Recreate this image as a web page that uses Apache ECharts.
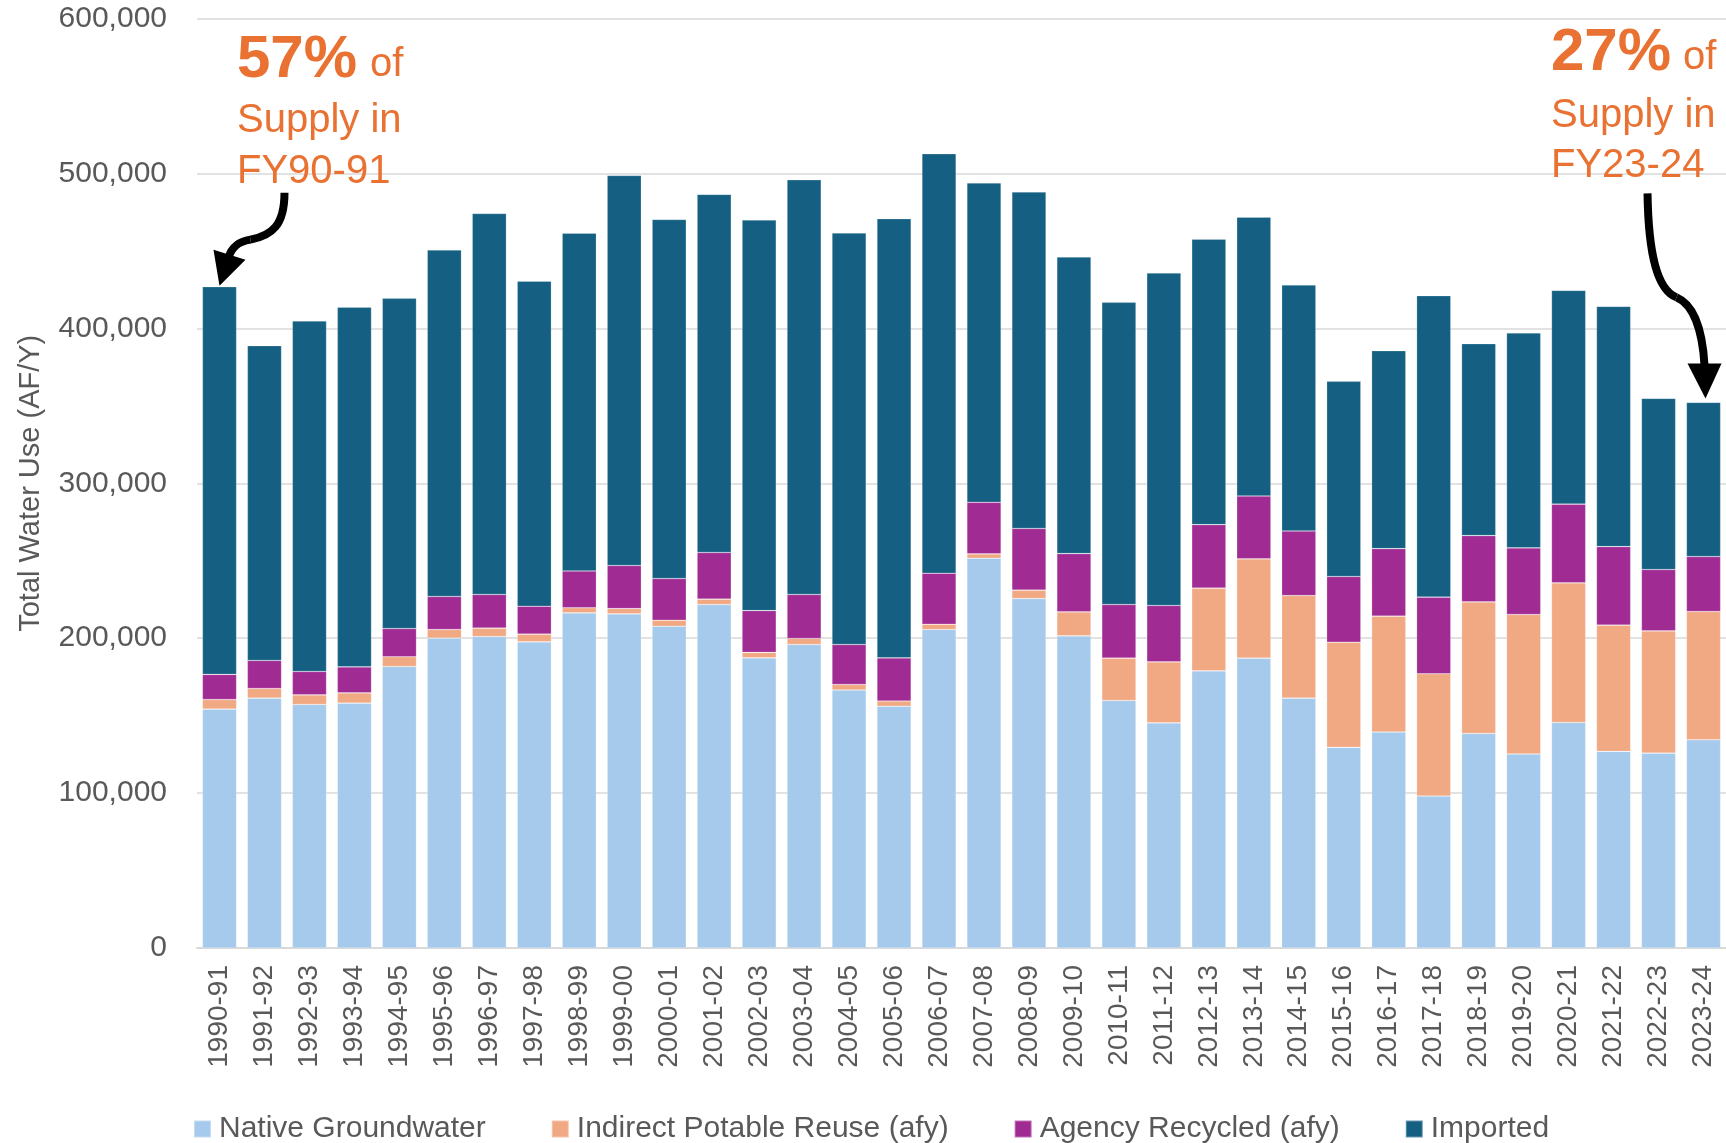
<!DOCTYPE html>
<html>
<head>
<meta charset="utf-8">
<script src="https://cdn.jsdelivr.net/npm/echarts@6/dist/echarts.min.js"></script>
<style>
html,body{margin:0;padding:0;background:#fff;}
#chart{width:1726px;height:1143px;}
</style>
</head>
<body>
<div id="chart"></div>
<script>
const categories = ['1990-91','1991-92','1992-93','1993-94','1994-95','1995-96','1996-97','1997-98','1998-99','1999-00','2000-01','2001-02','2002-03','2003-04','2004-05','2005-06','2006-07','2007-08','2008-09','2009-10','2010-11','2011-12','2012-13','2013-14','2014-15','2015-16','2016-17','2017-18','2018-19','2019-20','2020-21','2021-22','2022-23','2023-24'];
const nativeGroundwater = [154200,161300,157200,158100,181700,200000,201100,197600,216300,215700,207700,221700,187300,195900,166500,156100,205600,251600,225600,201500,159800,145300,178900,187100,161300,129500,139400,98100,138500,125200,145600,126900,125800,134400];
const indirectPotableReuse = [6200,6200,6200,6600,6300,5600,5400,5000,3300,3400,3900,3500,3500,3900,3600,3300,3400,2800,5400,15500,27300,39400,53400,64100,66200,67900,74800,78900,84900,90100,90100,81500,78900,82800];
const agencyRecycled = [16200,18100,15100,16800,18200,21300,21700,18000,23800,27800,26900,30100,27000,28400,25800,27900,32900,33300,39800,37600,34600,36400,41000,40600,41700,42400,43600,49500,42800,43000,50800,50700,39600,35500];
const imported = [250300,203200,226200,232100,213200,223700,245900,209800,218000,251800,231800,231200,252100,267700,265600,283500,270800,206100,217200,191400,195100,214600,184200,179900,158800,126000,127800,194600,123900,138700,138000,155100,110500,99500];
const yTicks = [0,100000,200000,300000,400000,500000,600000];
const seriesNames = ['Native Groundwater','Indirect Potable Reuse (afy)','Agency Recycled (afy)','Imported'];

const FONT = '"Liberation Sans", Arial, sans-serif';
const GRAY = '#595959';
const ORANGE = '#E97132';
const colors = ['#A6CAEC','#F1A983','#A02B93','#156082'];
const dataSets = [nativeGroundwater, indirectPotableReuse, agencyRecycled, imported];

const chart = echarts.init(document.getElementById('chart'), null, {renderer:'canvas'});
const option = {
  animation:false,
  textStyle:{fontFamily:FONT},
  grid:{left:197,right:0,top:18.5,bottom:195,containLabel:false},
  legend:{
    left:188, top:1109, itemWidth:17, itemHeight:17, itemGap:65,
    icon:'rect',
    textStyle:{fontFamily:FONT,fontSize:30,color:GRAY,padding:[0,0,0,3]},
    data:seriesNames
  },
  xAxis:{
    type:'category', data:categories,
    axisLine:{lineStyle:{color:'#D9D9D9',width:2}},
    axisTick:{show:false},
    axisLabel:{rotate:90,fontFamily:FONT,fontSize:28,color:GRAY,margin:17,interval:0}
  },
  yAxis:{
    type:'value', min:yTicks[0], max:yTicks[yTicks.length-1], interval:100000,
    name:'Total Water Use (AF/Y)', nameLocation:'middle', nameGap:152,
    nameTextStyle:{fontFamily:FONT,fontSize:29,color:GRAY},
    axisLine:{show:false}, axisTick:{show:false},
    splitLine:{lineStyle:{color:'#D9D9D9',width:1.5}},
    axisLabel:{fontFamily:FONT,fontSize:30,color:GRAY,margin:30,
      formatter:v=>v.toLocaleString('en-US')}
  },
  series: seriesNames.map((n,i)=>({
    name:n, type:'bar', stack:'total', data:dataSets[i],
    barCategoryGap:'24%',
    itemStyle:{color:colors[i],borderColor:'rgba(255,255,255,0.35)',borderWidth:0.6}
  }))
};
chart.setOption(option);

// annotations anchored to bar tops
const last = categories.length-1;
function total(i){return dataSets.reduce((s,d)=>s+d[i],0);}
const tipL = chart.convertToPixel({xAxisIndex:0,yAxisIndex:0},[categories[0], total(0)]);
const tipR = chart.convertToPixel({xAxisIndex:0,yAxisIndex:0},[categories[last], total(last)]);
const L = [tipL[0], tipL[1]-1];
const R = [tipR[0]+2, tipR[1]-4];

// baseline-positioned text (top-aligned, offset by ~0.79 * size)
function txt(x,baseline,t,size,bold){
  return {type:'text',x:x,y:baseline-Math.round(size*0.79),style:{text:t,fontFamily:FONT,fontSize:size,fontWeight:bold?'bold':'normal',fill:ORANGE,verticalAlign:'top',align:'left'}};
}
const graphics = [
  txt(237,77,'57%',60,true), txt(370,77,'of',40,false),
  txt(237,133,'Supply in',40,false), txt(237,184,'FY90-91',40,false),
  txt(1551,70,'27%',60,true), txt(1683,70,'of',40,false),
  txt(1551,128,'Supply in',40,false), txt(1551,178,'FY23-24',40,false),
  // left arrow
  {type:'bezierCurve',shape:{x1:L[0]+65,y1:L[1]-93,cpx1:L[0]+65,cpy1:L[1]-60,cpx2:L[0]+52,cpy2:L[1]-50,x2:L[0]+31,y2:L[1]-46},style:{stroke:'#000',lineWidth:8,fill:null,lineCap:'butt'}},
  {type:'bezierCurve',shape:{x1:L[0]+31,y1:L[1]-46,cpx1:L[0]+18,cpy1:L[1]-44,cpx2:L[0]+12,cpy2:L[1]-38,x2:L[0]+9,y2:L[1]-28},style:{stroke:'#000',lineWidth:8,fill:null}},
  {type:'polygon',shape:{points:[[L[0]-6,L[1]-36],[L[0]+26,L[1]-26],[L[0],L[1]]]},style:{fill:'#000'}},
  // right arrow
  {type:'bezierCurve',shape:{x1:R[0]-58,y1:R[1]-205,cpx1:R[0]-57,cpy1:R[1]-140,cpx2:R[0]-47,cpy2:R[1]-108,x2:R[0]-29,y2:R[1]-101},style:{stroke:'#000',lineWidth:8,fill:null}},
  {type:'bezierCurve',shape:{x1:R[0]-29,y1:R[1]-101,cpx1:R[0]-12,cpy1:R[1]-94,cpx2:R[0]-3,cpy2:R[1]-68,x2:R[0]-1,y2:R[1]-33},style:{stroke:'#000',lineWidth:8,fill:null}},
  {type:'polygon',shape:{points:[[R[0]-18,R[1]-35],[R[0]+16,R[1]-35],[R[0],R[1]]]},style:{fill:'#000'}}
];
chart.setOption({graphic:graphics});
</script>
</body>
</html>
